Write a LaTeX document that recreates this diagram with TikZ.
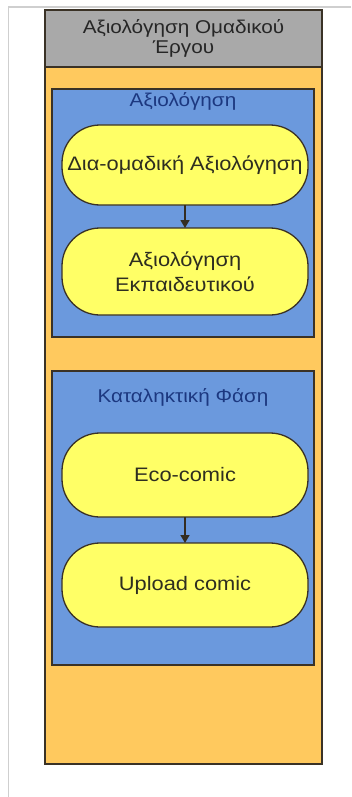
\documentclass[tikz,border=0pt]{standalone}
\usepackage{fontspec}
\setmainfont{Liberation Sans}[FakeStretch=1.12]
\usetikzlibrary{arrows.meta}
\definecolor{framegray}{HTML}{CFCFCF}
\definecolor{headgray}{HTML}{A9A9A9}
\definecolor{bodyorange}{HTML}{FFC95E}
\definecolor{phaseblue}{HTML}{6B99DD}
\definecolor{stepyellow}{HTML}{FFFF66}
\definecolor{edgedark}{HTML}{3A3226}
\definecolor{titleblue}{HTML}{1C3880}
\definecolor{textdark}{HTML}{2E2E20}
\tikzset{
  block/.style={draw=edgedark, line width=1.6pt, inner sep=0pt, outer sep=0pt},
  headbox/.style={block, fill=headgray, text=black!85, align=center,
    font=\fontsize{18.5}{20.5}\selectfont},
  bodybox/.style={block, fill=bodyorange},
  phasebox/.style={block, fill=phaseblue},
  phasetitle/.style={text=titleblue, font=\fontsize{18.5}{22}\selectfont, inner sep=0pt},
  stepbox/.style={draw=edgedark, line width=1.3pt, fill=stepyellow, rounded corners=38pt,
    minimum width=246pt, inner sep=0pt, outer sep=0pt, text=textdark, align=center,
    font=\fontsize{19.5}{25}\selectfont},
  flow/.style={-{Triangle[length=8pt,width=9pt]}, line width=1.4pt, draw=edgedark!90!black}
}
\begin{document}
\begin{tikzpicture}[x=1pt, y=-1pt]
  \useasboundingbox (0,0) rectangle (351,797);
  % page frame
  \coordinate (frameR) at (351,7);
  \coordinate (frameTL) at (8.5,7);
  \coordinate (frameB) at (8.5,797);
  \draw[framegray, line width=1.2pt] (frameR) -- (frameTL) -- (frameB);

  % outer container
  \node[bodybox, minimum width=277pt, minimum height=697pt] (body) at (183.5,415.5) {};
  \node[headbox, minimum width=277pt, minimum height=57pt] (head) at (183.5,38.5)
    {Αξιολόγηση Ομαδικού\\Έργου};

  % first phase
  \node[phasebox, minimum width=262pt, minimum height=248pt] (evalbox) at (183,213) {};
  \node[phasetitle] (evaltitle) at (183,101) {Αξιολόγηση};
  \node[stepbox, minimum height=80pt] (peer) at (185,165) {Δια-ομαδική Αξιολόγηση};
  \node[stepbox, minimum height=87pt] (teacher) at (185,271.5) {Αξιολόγηση\\Εκπαιδευτικού};
  \draw[flow] (peer) -- (teacher);

  % final phase
  \node[phasebox, minimum width=262pt, minimum height=294pt] (finalbox) at (183,518) {};
  \node[phasetitle] (finaltitle) at (183,397) {Καταληκτική Φάση};
  \node[stepbox, minimum height=84pt] (eco) at (185,475) {Eco-comic};
  \node[stepbox, minimum height=84pt] (upload) at (185,585) {Upload comic};
  \draw[flow] (eco) -- (upload);
\end{tikzpicture}
\end{document}
